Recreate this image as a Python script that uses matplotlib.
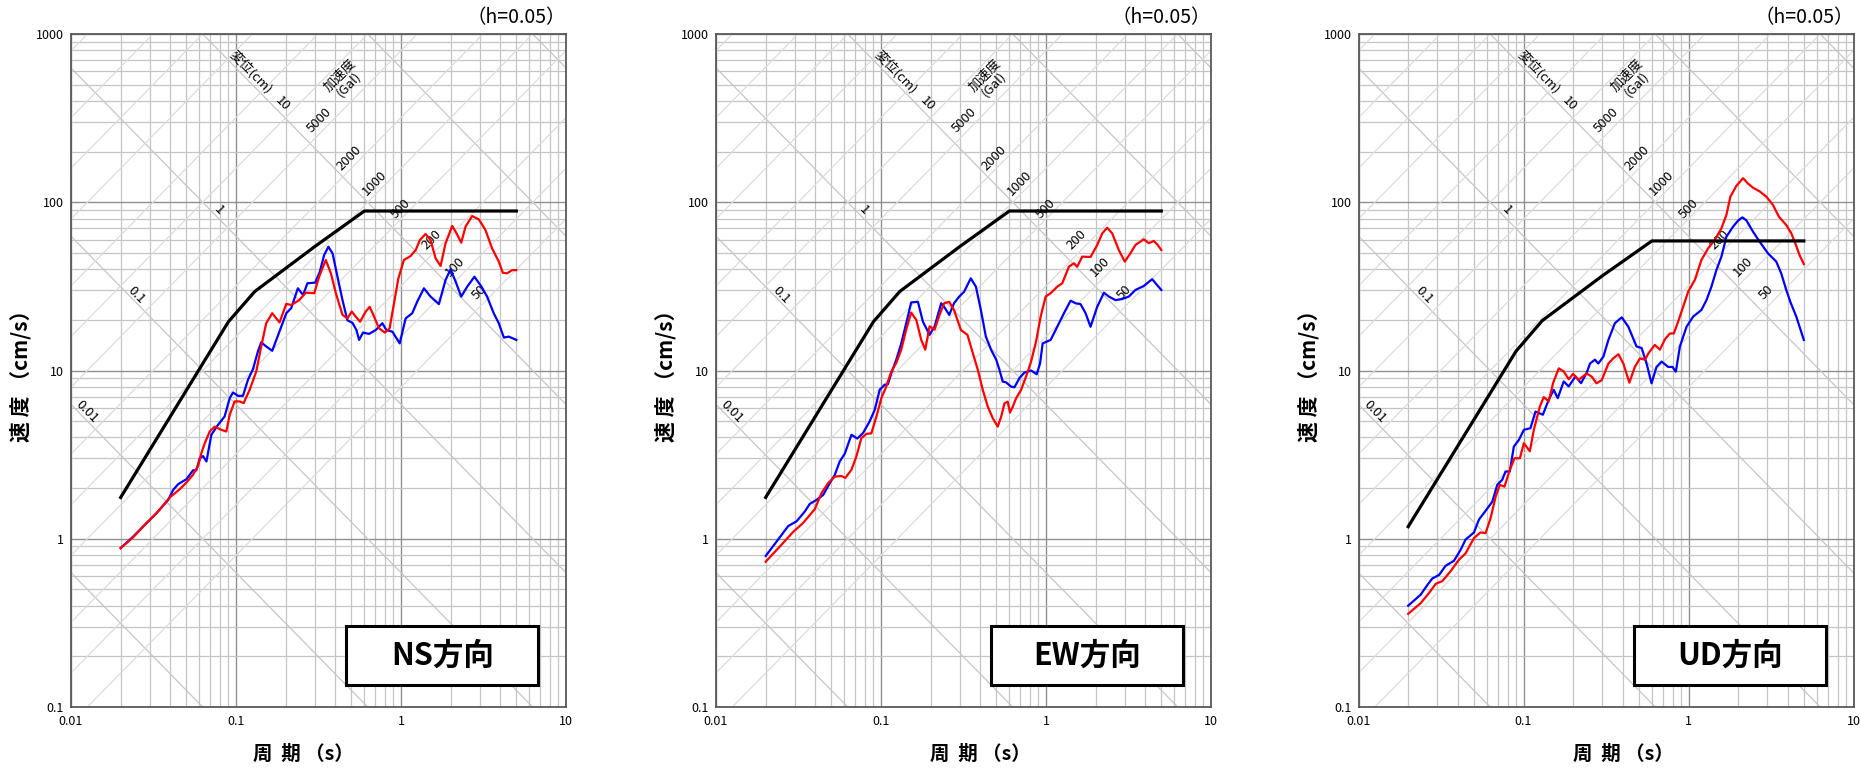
import numpy as np
import matplotlib
matplotlib.use('Agg')
import matplotlib.pyplot as plt
from matplotlib.patches import Rectangle
from matplotlib.ticker import LogLocator, NullFormatter

plt.rcParams['font.family'] = ['Noto Sans CJK JP', 'DejaVu Sans']

# ---- data: period T (s), velocity v (cm/s) ----
design_T = [0.02, 0.09, 0.13, 0.3, 0.6, 5.0]
design_h = [1.76, 19.5, 29.5, 54.5, 88.7, 88.7]   # NS / EW
design_ud = [1.18, 13.0, 19.8, 36.5, 58.9, 58.9]  # UD

ns_blue_T = [0.02, 0.0238, 0.028, 0.033, 0.0388, 0.0416, 0.0446, 0.0501, 0.0549, 0.0575, 0.0603, 0.0631,
             0.0662, 0.0709, 0.0778, 0.0853, 0.0916, 0.096, 0.1028, 0.1102, 0.1182, 0.1268, 0.1358, 0.1422,
             0.1524, 0.1658, 0.1836, 0.2017, 0.2162, 0.2371, 0.255, 0.271, 0.302, 0.322, 0.342, 0.363, 0.385,
             0.412, 0.442, 0.473, 0.508, 0.537, 0.557, 0.589, 0.64, 0.703, 0.771, 0.815, 0.887, 0.982, 1.067,
             1.17, 1.255, 1.377, 1.51, 1.697, 1.862, 1.996, 2.142, 2.317, 2.519, 2.787, 3.073, 3.325, 3.647,
             3.914, 4.2, 4.501, 5.0]
ns_blue_v = [0.88, 1.03, 1.21, 1.42, 1.70, 1.95, 2.11, 2.26, 2.55, 2.55, 3.01, 3.1, 2.88, 4.15, 4.75, 5.33,
             6.85, 7.4, 7.07, 7.07, 8.81, 10.2, 13.0, 14.7, 13.9, 13.1, 17.1, 21.9, 23.5, 30.8, 28.1, 33.0,
             33.3, 38.6, 48.5, 54.4, 49.6, 36.1, 26.2, 19.9, 19.2, 17.4, 15.2, 16.8, 16.5, 17.4, 19.1, 17.4,
             17.0, 14.5, 20.4, 21.9, 25.7, 30.8, 27.5, 24.8, 34.5, 39.9, 33.8, 27.5, 31.5, 36.1, 31.5, 27.5,
             21.9, 19.1, 15.7, 15.9, 15.2]
ns_red_T = [0.02, 0.0238, 0.028, 0.033, 0.0397, 0.0456, 0.0501, 0.0549, 0.0589, 0.0617, 0.0647, 0.0693,
            0.0743, 0.0815, 0.0874, 0.0916, 0.0982, 0.1052, 0.1112, 0.121, 0.1327, 0.1422, 0.1524, 0.1658,
            0.1836, 0.2017, 0.2162, 0.2415, 0.265, 0.298, 0.319, 0.35, 0.376, 0.403, 0.442, 0.473, 0.503,
            0.532, 0.565, 0.611, 0.646, 0.687, 0.736, 0.8, 0.853, 0.907, 0.964, 1.042, 1.144, 1.227, 1.303,
            1.409, 1.51, 1.62, 1.737, 1.862, 2.043, 2.172, 2.317, 2.461, 2.699, 2.962, 3.25, 3.564, 3.914,
            4.14, 4.399, 4.712, 5.0]
ns_red_v = [0.88, 1.02, 1.21, 1.42, 1.76, 1.97, 2.16, 2.40, 2.71, 3.23, 3.70, 4.34, 4.64, 4.44, 4.34, 5.46,
            6.55, 6.55, 6.4, 7.68, 9.87, 13.9, 19.1, 21.9, 19.3, 24.9, 24.5, 26.2, 29.0, 28.8, 36.1, 45.4,
            37.8, 28.8, 21.4, 20.4, 22.4, 20.9, 19.5, 22.4, 23.9, 20.9, 17.8, 16.8, 17.8, 25.1, 35.3, 45.4,
            47.9, 52.0, 59.7, 64.8, 59.7, 46.5, 41.8, 57.0, 72.3, 65.3, 57.5, 71.6, 82.8, 79.1, 68.4, 53.2,
            44.4, 38.1, 37.8, 39.5, 39.5]

ew_blue_T = [0.02, 0.0238, 0.0274, 0.0308, 0.0345, 0.037, 0.0406, 0.0446, 0.0489, 0.0525, 0.0562, 0.0603,
             0.0662, 0.0719, 0.0778, 0.0853, 0.0916, 0.0982, 0.1052, 0.1102, 0.1155, 0.1238, 0.1327, 0.1422,
             0.1524, 0.1674, 0.1795, 0.197, 0.2113, 0.2317, 0.2415, 0.259, 0.277, 0.298, 0.319, 0.35, 0.376,
             0.403, 0.432, 0.466, 0.499, 0.522, 0.547, 0.573, 0.614, 0.644, 0.69, 0.739, 0.812, 0.879, 0.92,
             0.955, 1.067, 1.17, 1.285, 1.409, 1.51, 1.62, 1.737, 1.862, 2.043, 2.244, 2.405, 2.637, 2.895,
             3.175, 3.483, 3.914, 4.399, 4.712, 5.0]
ew_blue_v = [0.79, 0.99, 1.19, 1.27, 1.45, 1.61, 1.70, 1.82, 2.14, 2.40, 2.88, 3.20, 4.15, 3.94, 4.25, 4.98,
             5.83, 7.68, 8.22, 8.3, 9.64, 11.6, 14.5, 19.1, 25.4, 25.6, 19.5, 16.3, 18.3, 25.1, 23.9, 21.4,
             25.1, 27.5, 29.4, 35.3, 31.5, 22.9, 15.9, 13.2, 11.6, 10.1, 8.59, 8.5, 8.02, 7.95, 9.0, 9.71,
             10.0, 9.5, 11.0, 14.5, 15.2, 18.2, 21.9, 26.0, 25.1, 24.8, 21.9, 18.2, 23.9, 29.0, 27.5, 26.2,
             26.6, 27.5, 30.1, 31.8, 34.9, 32.2, 30.1]
ew_red_T = [0.02, 0.0249, 0.0294, 0.0337, 0.0397, 0.0436, 0.0478, 0.0525, 0.0575, 0.0608, 0.0662, 0.0709,
            0.076, 0.0815, 0.0874, 0.0938, 0.1005, 0.1077, 0.1155, 0.1238, 0.1327, 0.1422, 0.1524, 0.1636,
            0.1753, 0.1854, 0.197, 0.2113, 0.2264, 0.2415, 0.259, 0.277, 0.305, 0.334, 0.36, 0.386, 0.414,
            0.444, 0.476, 0.51, 0.535, 0.56, 0.586, 0.605, 0.629, 0.659, 0.706, 0.757, 0.812, 0.871, 0.928,
            0.995, 1.067, 1.17, 1.255, 1.377, 1.476, 1.546, 1.658, 1.862, 2.043, 2.192, 2.35, 2.519, 2.762,
            3.003, 3.25, 3.483, 3.914, 4.2, 4.501, 4.755, 5.0]
ew_red_v = [0.73, 0.92, 1.10, 1.24, 1.50, 1.87, 2.14, 2.34, 2.36, 2.30, 2.57, 3.08, 3.96, 4.2, 4.23, 5.33,
            6.85, 8.04, 9.87, 11.1, 13.3, 17.5, 22.1, 20.0, 15.2, 13.3, 18.3, 17.5, 21.4, 25.1, 25.6, 22.9,
            17.4, 16.3, 12.7, 10.1, 7.66, 6.09, 5.20, 4.64, 5.32, 6.38, 6.53, 5.62, 6.09, 6.84, 7.66, 9.20,
            11.3, 14.9, 20.9, 27.5, 28.8, 31.5, 33.0, 41.4, 43.4, 41.4, 47.5, 47.3, 55.7, 65.3, 70.6, 65.3,
            52.0, 44.4, 49.7, 55.7, 60.2, 57.1, 58.9, 55.7, 52.0]

ud_blue_T = [0.02, 0.0238, 0.0261, 0.028, 0.0308, 0.0337, 0.0379, 0.0416, 0.0446, 0.0501, 0.0537, 0.0575,
             0.0647, 0.0693, 0.0743, 0.0778, 0.0826, 0.0874, 0.0938, 0.1005, 0.1102, 0.1182, 0.131, 0.1422,
             0.1524, 0.1613, 0.1753, 0.1879, 0.2064, 0.2233, 0.2415, 0.253, 0.271, 0.284, 0.305, 0.327, 0.358,
             0.394, 0.432, 0.484, 0.52, 0.557, 0.597, 0.64, 0.687, 0.753, 0.8, 0.838, 0.887, 0.973, 1.067,
             1.198, 1.285, 1.377, 1.476, 1.583, 1.697, 1.862, 1.996, 2.121, 2.244, 2.461, 2.699, 3.031, 3.403,
             3.647, 3.914, 4.14, 4.501, 5.0]
ud_blue_v = [0.40, 0.465, 0.53, 0.58, 0.61, 0.69, 0.74, 0.86, 0.99, 1.09, 1.30, 1.42, 1.66, 2.09, 2.24, 2.51,
             2.51, 3.53, 3.87, 4.44, 4.54, 5.70, 5.46, 6.70, 7.68, 6.85, 8.61, 8.04, 9.21, 8.41, 9.7, 11.0,
             11.6, 11.0, 12.1, 15.2, 19.1, 20.7, 18.2, 13.9, 13.6, 11.0, 8.39, 10.5, 11.3, 10.5, 10.5, 9.84,
             13.9, 18.2, 20.9, 22.9, 26.2, 31.5, 39.5, 47.5, 62.4, 71.6, 77.7, 81.3, 78.0, 66.8, 58.3, 49.7,
             44.4, 37.8, 30.1, 25.6, 20.9, 15.2]
ud_red_T = [0.02, 0.0238, 0.0267, 0.0294, 0.0322, 0.0361, 0.0406, 0.0446, 0.0501, 0.0549, 0.0589, 0.0631,
            0.0678, 0.0719, 0.0767, 0.0826, 0.0882, 0.0951, 0.1005, 0.1092, 0.1155, 0.1256, 0.1327, 0.1422,
            0.151, 0.1636, 0.1753, 0.1879, 0.1998, 0.2162, 0.2415, 0.259, 0.277, 0.298, 0.327, 0.35, 0.376,
            0.403, 0.438, 0.473, 0.508, 0.545, 0.57, 0.625, 0.671, 0.719, 0.771, 0.815, 0.865, 0.928, 0.995,
            1.092, 1.198, 1.315, 1.442, 1.583, 1.697, 1.794, 1.95, 2.142, 2.296, 2.461, 2.699, 2.962, 3.25,
            3.532, 3.914, 4.2, 4.399, 4.712, 5.0]
ud_red_v = [0.358, 0.414, 0.475, 0.54, 0.56, 0.64, 0.75, 0.82, 1.01, 1.09, 1.08, 1.32, 1.78, 2.09, 2.04, 2.57,
            3.01, 3.01, 3.70, 3.31, 4.44, 6.11, 6.95, 6.55, 8.41, 10.3, 9.87, 8.87, 9.55, 8.81, 9.6, 9.2,
            8.39, 8.77, 11.0, 11.8, 12.5, 11.0, 8.47, 10.5, 11.8, 11.6, 12.6, 14.2, 13.3, 15.3, 16.6, 16.6,
            19.5, 23.9, 29.4, 34.5, 45.4, 53.2, 59.7, 70.0, 84.0, 108, 125, 139, 129, 122, 116, 108, 96.4,
            82.0, 73.2, 65.3, 58.3, 48.5, 42.9]

panel_names = ['NS方向', 'EW方向', 'UD方向']

# tripartite guide lines: displacement (cm) and acceleration (Gal)
disp_lines = [0.001, 0.01, 0.1, 1, 10, 100, 1000]
acc_lines = [50, 100, 200, 500, 1000, 2000, 5000, 10000, 20000, 50000, 100000, 200000, 500000]
disp_labels = ['0.01', '0.1', '1', '10', '変位(cm)']
disp_label_T = [0.0125, 0.0249, 0.0789, 0.191, 0.124]
disp_label_v = [5.7, 28.1, 90, 387, 597]
acc_labels = ['5000', '2000', '1000', '500', '200', '100', '50', '加速度\n(Gal)']
acc_label_T = [0.318, 0.488, 0.690, 1.0, 1.54, 2.13, 2.98, 0.455]
acc_label_v = [308, 182, 130, 92, 60.2, 41.4, 29.0, 533]

x_ticks = [0.01, 0.1, 1, 10]
x_tick_labels = ['0.01', '0.1', '1', '10']
y_ticks = [0.1, 1, 10, 100, 1000]
y_tick_labels = ['0.1', '1', '10', '100', '1000']

series = [
    (ns_blue_T, ns_blue_v, ns_red_T, ns_red_v, design_h),
    (ew_blue_T, ew_blue_v, ew_red_T, ew_red_v, design_h),
    (ud_blue_T, ud_blue_v, ud_red_T, ud_red_v, design_ud),
]

W, H = 1860, 768
fig = plt.figure(figsize=(W / 100, H / 100), dpi=100)
lefts = [71, 716, 1358.5]
xlabel_pos = [0.47, 0.535, 0.535]

for i, (bT, bv, rT, rv, dv) in enumerate(series):
    ax = fig.add_axes([lefts[i] / W, 61 / H, 495 / W, 673 / H])
    ax.set_xscale('log')
    ax.set_yscale('log')

    Tl = np.array([0.005, 20.0])
    for d in disp_lines:
        ax.plot(Tl, 2 * np.pi * d / Tl, color='#c6c6c6', lw=0.9, zorder=1)
    for a in acc_lines:
        ax.plot(Tl, a * Tl / (2 * np.pi), color='#dcdcdc', lw=0.9, zorder=1)

    for s, t, v in zip(disp_labels, disp_label_T, disp_label_v):
        ax.text(t, v, s, rotation=-45.5, ha='center', va='center', fontsize=9.5,
                rotation_mode='anchor', zorder=2)
    for s, t, v in zip(acc_labels, acc_label_T, acc_label_v):
        ax.text(t, v, s, rotation=45.5, ha='center', va='center', fontsize=9.5,
                rotation_mode='anchor', zorder=2, linespacing=1.0)

    ax.plot(bT, bv, color='#0000ff', lw=1.6, zorder=4)
    ax.plot(rT, rv, color='#ff0000', lw=1.6, zorder=4)
    ax.plot(design_T, dv, color='black', lw=2.3, zorder=5)

    ax.set_xlim(0.01, 10)
    ax.set_ylim(0.1, 1000)

    ax.xaxis.set_minor_locator(LogLocator(base=10, subs=np.arange(2, 10)))
    ax.yaxis.set_minor_locator(LogLocator(base=10, subs=np.arange(2, 10)))
    ax.xaxis.set_minor_formatter(NullFormatter())
    ax.yaxis.set_minor_formatter(NullFormatter())
    ax.set_xticks(x_ticks)
    ax.set_xticklabels(x_tick_labels)
    ax.set_yticks(y_ticks)
    ax.set_yticklabels(y_tick_labels)
    ax.tick_params(which='both', length=0, labelsize=9)
    ax.tick_params(axis='x', pad=6)
    ax.tick_params(axis='y', pad=5)
    ax.grid(which='major', color='#8f8f8f', lw=1.0)
    ax.grid(which='minor', color='#c4c4c4', lw=0.9)
    ax.set_axisbelow(True)
    for sp in ax.spines.values():
        sp.set_color('#595959')
        sp.set_linewidth(1.3)

    ax.add_patch(Rectangle((0.556, 0.032), 0.388, 0.088, transform=ax.transAxes,
                           facecolor='white', edgecolor='black', lw=2.2, zorder=6))
    ax.text(0.75, 0.076, panel_names[i], transform=ax.transAxes, ha='center', va='center',
            fontsize=22, fontweight='bold', zorder=7)

    ax.text(1.0, 1.024, '（h=0.05）', transform=ax.transAxes, ha='right', va='center', fontsize=14)
    ax.text(-0.101, 0.5, '速 度 （cm/s）', transform=ax.transAxes, rotation=90,
            ha='center', va='center', fontsize=15, fontweight='bold')
    ax.text(xlabel_pos[i], -0.07, '周  期 （s）', transform=ax.transAxes,
            ha='center', va='center', fontsize=14, fontweight='bold')

fig.savefig('out.png', dpi=100)
